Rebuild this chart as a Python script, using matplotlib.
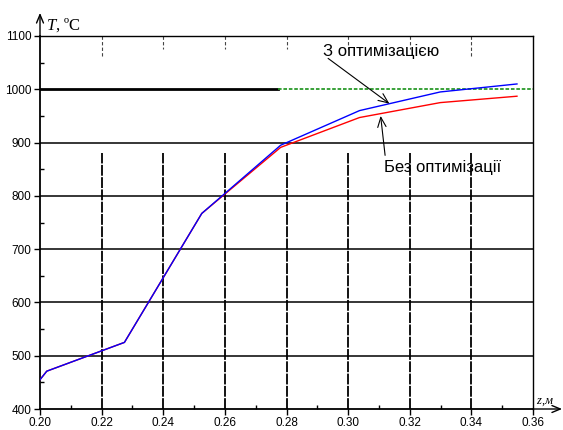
import matplotlib
matplotlib.use("Agg")
import matplotlib.pyplot as plt
import numpy as np

# ---- data ----
z_vals = [0.2000, 0.2022, 0.2274, 0.2525, 0.2781, 0.3037, 0.3299, 0.3548]
T_opt = [455, 471, 525, 767, 895, 960, 995, 1010]
T_base = [455, 471, 525, 767, 891, 947, 975, 987]
x_ticks = [0.20, 0.22, 0.24, 0.26, 0.28, 0.30, 0.32, 0.34, 0.36]
x_labels = ["0.20", "0.22", "0.24", "0.26", "0.28", "0.30", "0.32", "0.34", "0.36"]
y_ticks = [400, 500, 600, 700, 800, 900, 1000, 1100]
label_opt = "З оптимізацією"
label_base = "Без оптимізації"

plt.rcParams['font.family'] = ['Liberation Sans', 'DejaVu Sans']
plt.rcParams['mathtext.fontset'] = 'custom'
plt.rcParams['mathtext.it'] = 'Liberation Serif:italic'
plt.rcParams['mathtext.rm'] = 'Liberation Serif'

W, H = 563, 430
fig = plt.figure(figsize=(W / 100, H / 100), dpi=100)
L, R, T, B = 40, 533, 36, 409
ax = fig.add_axes([L / W, (H - B) / H, (R - L) / W, (B - T) / H])
ax.set_xlim(0.20, 0.36)
ax.set_ylim(400, 1100)

# grid: lower vertical dashed lines
for xv in x_ticks[1:-1]:
    ax.plot([xv, xv], [400, 880], color='black', lw=1.3, ls=(0, (6, 0.8)), zorder=1)
# upper short vertical segments
for xv in x_ticks[1:-1]:
    y_end = 1060 if xv in (0.22, 0.34) else 1075
    ax.plot([xv, xv], [1100, y_end], color='#444444', lw=0.8, ls=(0, (3, 2)), zorder=1)
# horizontal lines
for yv in [500, 600, 700, 800, 900]:
    ax.plot([0.20, 0.36], [yv, yv], color='black', lw=1.1, zorder=1)
ax.plot([0.20, 0.2774], [1000, 1000], color='black', lw=2.0, zorder=1)
ax.plot([0.2774, 0.36], [1000, 1000], color='#2a9a2a', lw=1.3, ls=(0, (2, 1)), zorder=1)

# curves
ax.plot(z_vals, T_base, color='#ff0000', lw=1.0, zorder=3)
ax.plot(z_vals, T_opt, color='#0000ff', lw=1.0, zorder=4)

# annotations
ax.text(0.3107, 1071, label_opt, fontsize=12, ha='center', va='center', zorder=5)
ax.text(0.3305, 854, label_base, fontsize=12, ha='center', va='center', zorder=5)
ap = dict(arrowstyle='->,head_length=0.7,head_width=0.3', lw=0.8, color='black',
          shrinkA=0, shrinkB=0)
ax.annotate('', xy=(0.3134, 973), xytext=(0.2935, 1058), arrowprops=ap, zorder=5)
ax.annotate('', xy=(0.31055, 950), xytext=(0.3120, 876), arrowprops=ap, zorder=5)

# ticks
ax.set_xticks(x_ticks)
ax.set_xticklabels(x_labels)
ax.set_yticks(y_ticks)
ax.set_xticks(np.arange(0.21, 0.36, 0.02), minor=True)
ax.set_yticks(np.arange(450, 1100, 100), minor=True)
ax.tick_params(axis='both', which='major', direction='out', length=4, width=1,
               labelsize=8.5, pad=2)
ax.tick_params(axis='both', which='minor', direction='in', length=3, width=1)

for s in ax.spines.values():
    s.set_linewidth(1.0)
ax.spines['left'].set_linewidth(1.3)
ax.spines['bottom'].set_linewidth(1.3)

# axis arrows
ax.annotate('', xy=(0, 1.062), xytext=(0, 1.0), xycoords='axes fraction',
            arrowprops=dict(arrowstyle='->,head_length=0.6,head_width=0.25', lw=1.0,
                            color='black', shrinkA=0, shrinkB=0), annotation_clip=False)
ax.annotate('', xy=(1.059, 0), xytext=(1.0, 0), xycoords='axes fraction',
            arrowprops=dict(arrowstyle='->,head_length=0.6,head_width=0.25', lw=1.0,
                            color='black', shrinkA=0, shrinkB=0), annotation_clip=False)

ax.text(0.012, 1.03, r"$T$, ºC", transform=ax.transAxes, fontsize=12,
        family='Liberation Serif', ha='left', va='center')
ax.text(1.006, 0.004, r"$z$,м", transform=ax.transAxes, fontsize=9,
        family='Liberation Serif', style='italic', ha='left', va='bottom')

fig.savefig("out.png", dpi=100)
